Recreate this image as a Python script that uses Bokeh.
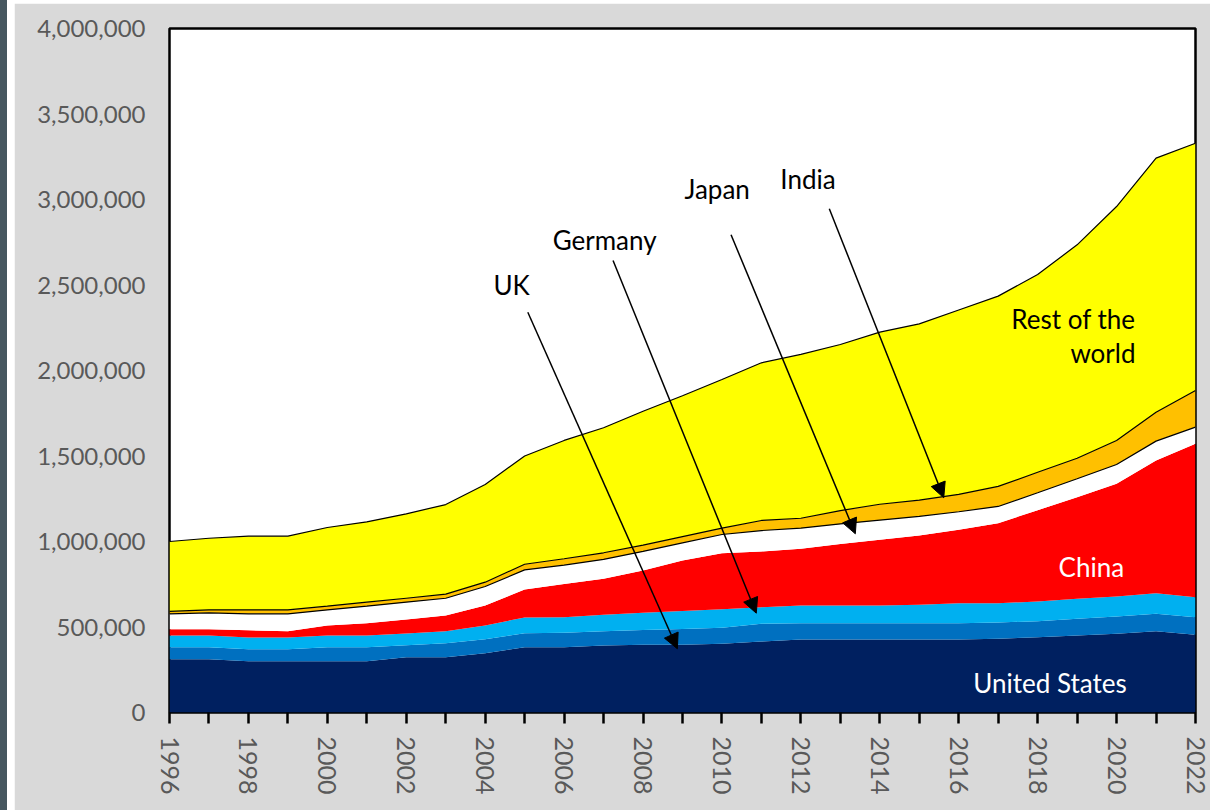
import numpy as np
from bokeh.plotting import figure
from bokeh.models import (ColumnDataSource, FixedTicker, NumeralTickFormatter, Range1d,
                          Arrow, NormalHead, Label, Div, Spacer)
from bokeh.layouts import row, column
from bokeh.embed import file_html
from bokeh.resources import INLINE

# Annual values per country, 1996-2022
years = list(range(1996, 2023))
united_states = [312000, 312000, 300000, 300000, 300000, 300000, 323000, 323000, 347000, 382000,
                 382000, 392000, 396000, 396000, 402000, 415000, 427000, 427000, 427000, 427000,
                 427000, 431000, 440000, 450000, 460000, 475000, 454000]
uk = [70000, 70000, 70000, 70000, 82000, 82000, 71000, 82000, 82000, 82000,
      84000, 83000, 87000, 93000, 93000, 104000, 95000, 95000, 95000, 95000,
      95000, 95000, 94000, 98000, 101000, 102000, 103000]
germany = [68000, 68000, 69000, 69000, 68000, 68000, 68000, 70000, 80000, 92000,
           91000, 96000, 100000, 104000, 109000, 97000, 104000, 104000, 104000, 108000,
           117000, 113000, 115000, 117000, 117000, 121000, 117000]
china = [37000, 37000, 42000, 36000, 59000, 72000, 82000, 92000, 117000, 163000,
         194000, 211000, 247000, 296000, 328000, 326000, 331000, 360000, 384000, 405000,
         429000, 468000, 534000, 594000, 659000, 776000, 897000]
japan = [90000, 96000, 96000, 102000, 91000, 100000, 101000, 101000, 111000, 115000,
         111000, 113000, 112000, 103000, 109000, 122000, 121000, 117000, 115000, 112000,
         106000, 98000, 102000, 108000, 113000, 113000, 98000]
india = [14000, 17000, 23000, 23000, 22000, 23000, 23000, 24000, 25000, 33000,
         37000, 39000, 37000, 37000, 37000, 59000, 58000, 78000, 93000, 95000,
         102000, 117000, 120000, 120000, 141000, 169000, 214000]
rest_of_world = [409000, 419000, 431000, 431000, 460000, 470000, 494000, 524000, 571000, 633000,
                 692000, 731000, 783000, 823000, 869000, 922000, 958000, 971000, 1006000, 1031000,
                 1078000, 1113000, 1156000, 1248000, 1368000, 1486000, 1446000]

series = ["united_states", "uk", "germany", "china", "japan", "india", "rest_of_world"]
colors = ["#002060", "#0070C0", "#00B0F0", "#FF0000", "#FFFFFF", "#FFC000", "#FFFF00"]

source = ColumnDataSource(dict(year=years, united_states=united_states, uk=uk, germany=germany,
                               china=china, japan=japan, india=india,
                               rest_of_world=rest_of_world))

FONT = "Lato"
GREY_TEXT = "#595959"

p = figure(width=1196, height=807, output_backend="svg", toolbar_location=None,
           x_range=Range1d(1996, 2022), y_range=Range1d(0, 4000000),
           background_fill_color="white", border_fill_color="#d9d9d9",
           min_border_left=155, min_border_right=15, min_border_top=25, min_border_bottom=98)

p.varea_stack(stackers=series, x="year", color=colors, source=source)

# Black outlines around the India band and along the world total
stack = np.cumsum(np.array([united_states, uk, germany, china, japan, india, rest_of_world]), axis=0)
for level in (4, 5, 6):
    p.line(years, stack[level], line_color="black", line_width=1.2)

p.grid.visible = False
p.outline_line_color = "black"
p.outline_line_width = 2.5

p.yaxis.ticker = FixedTicker(ticks=list(range(0, 4000001, 500000)))
p.yaxis.formatter = NumeralTickFormatter(format="0,0")
p.yaxis.major_tick_line_color = None
p.yaxis.minor_tick_line_color = None
p.yaxis.major_tick_out = 0
p.yaxis.major_tick_in = 0
p.yaxis.axis_line_color = None
p.yaxis.major_label_standoff = 24
p.yaxis.major_label_text_font_size = "24px"

p.xaxis.ticker = FixedTicker(ticks=years)
p.xaxis.major_label_overrides = {y: ("" if y % 2 else str(y)) for y in years}
p.xaxis.major_label_orientation = "vertical"
p.xaxis.axis_line_color = None
p.xaxis.major_tick_line_color = "black"
p.xaxis.major_tick_line_width = 2.5
p.xaxis.major_tick_in = 0
p.xaxis.major_tick_out = 11
p.xaxis.minor_tick_line_color = None
p.xaxis.major_label_standoff = 13
p.xaxis.major_label_text_font_size = "25px"

for ax in (p.xaxis, p.yaxis):
    ax.major_label_text_font = FONT
    ax.major_label_text_color = GREY_TEXT

# Series labels
def add_label(x, y, text, color="black", align="left"):
    p.add_layout(Label(x=x, y=y, y_offset=9, text=text, text_font=FONT, text_font_size="26px",
                       text_color=color, text_align=align, text_baseline="alphabetic"))

add_label(2004.21, 2450000, "UK")
add_label(2005.71, 2713000, "Germany")
add_label(2009.05, 3006000, "Japan")
add_label(2011.48, 3070000, "India")
add_label(2020.48, 2246000, "Rest of the", align="right")
add_label(2020.48, 2047000, "world", align="right")
add_label(2018.53, 801000, "China", color="white")
add_label(2016.37, 117000, "United States", color="white")

# Pointer arrows from labels into their bands
arrows = [
    (2005.08, 2341000, 2008.87, 372500),   # UK
    (2007.24, 2643000, 2010.87, 580700),   # Germany
    (2010.23, 2794000, 2013.38, 1045000),  # Japan
    (2012.72, 2946000, 2015.62, 1255600),  # India
]
for xs, ys, xe, ye in arrows:
    p.add_layout(Arrow(x_start=xs, y_start=ys, x_end=xe, y_end=ye, line_color="black",
                       line_width=1.5,
                       end=NormalHead(size=15, fill_color="black", line_color="black")))

left_strip = Div(width=7, height=810, margin=0, styles={"background-color": "#46575f"})
white_strip = Div(width=7, height=810, margin=0, styles={"background-color": "white"})
page = row(left_strip, white_strip, column(Spacer(width=1196, height=3), p, spacing=0), spacing=0)

open("out.html", "w").write(file_html(page, INLINE))
